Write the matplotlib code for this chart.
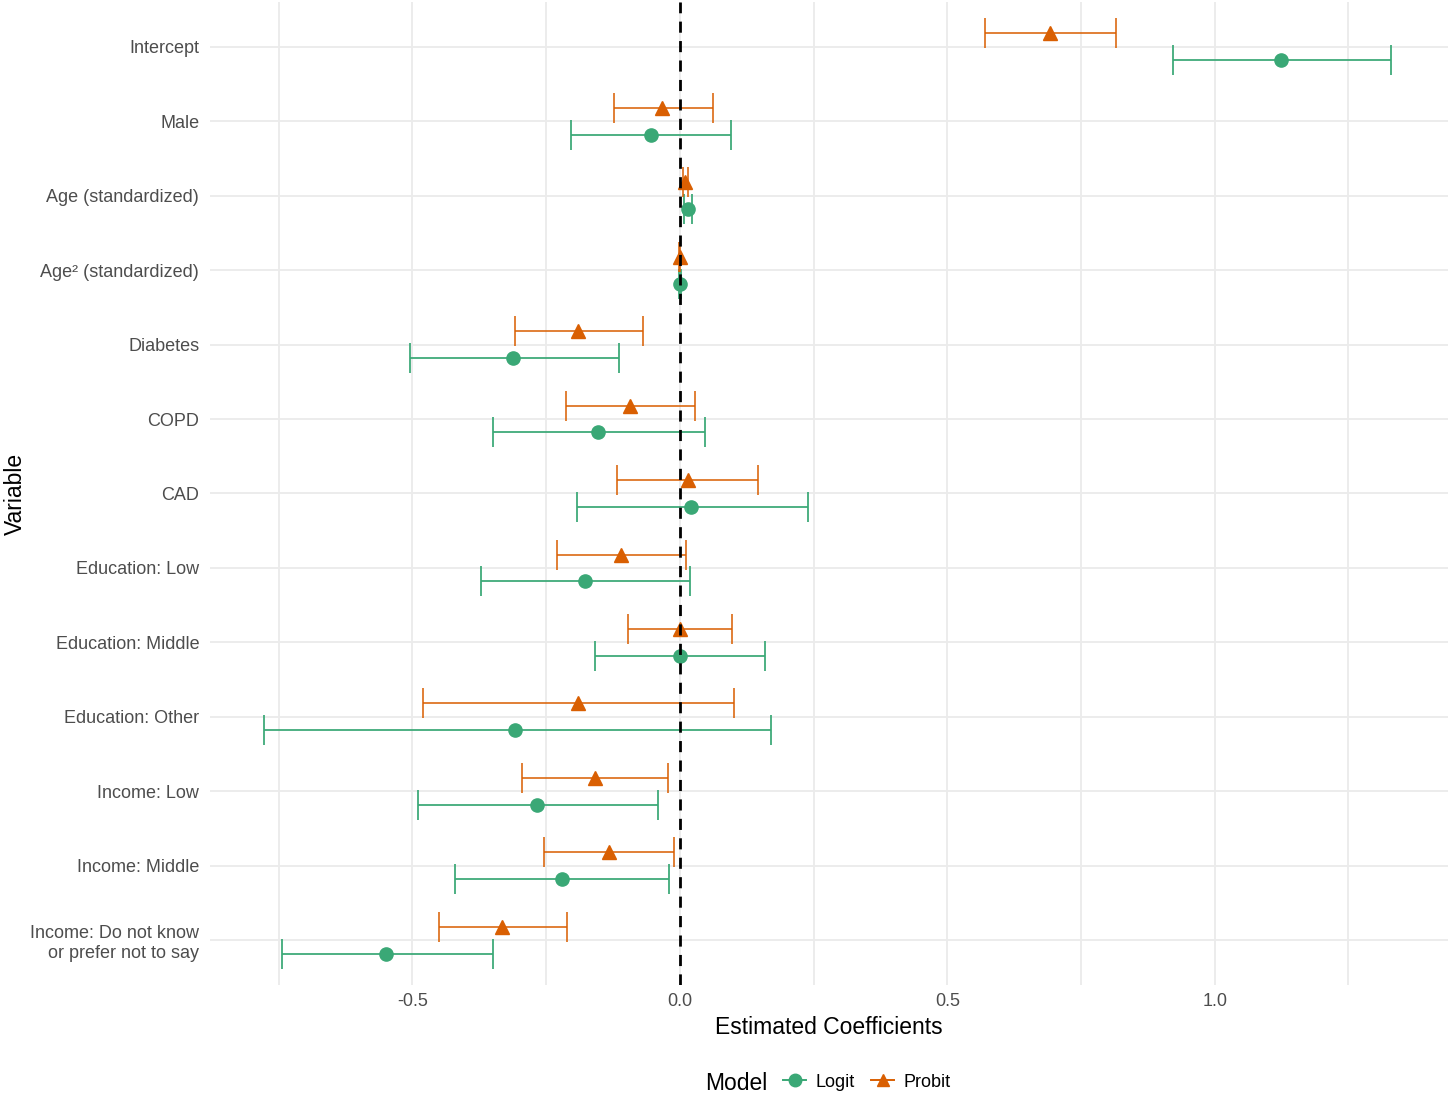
import numpy as np
import matplotlib.pyplot as plt
from matplotlib.lines import Line2D

plt.rcParams['font.family'] = ['Liberation Sans', 'DejaVu Sans']

# coefficient estimates
variables = ["Intercept", "Male", "Age (standardized)", "Age\u00b2 (standardized)",
             "Diabetes", "COPD", "CAD", "Education: Low", "Education: Middle",
             "Education: Other", "Income: Low", "Income: Middle",
             "Income: Do not know\nor prefer not to say"]

logit_est = [1.123, -0.054, 0.015, 0.000, -0.312, -0.153, 0.021, -0.177, 0.000, -0.308, -0.267, -0.220, -0.549]
logit_lo = [0.922, -0.203, 0.008, -0.002, -0.504, -0.349, -0.192, -0.371, -0.159, -0.778, -0.489, -0.420, -0.744]
logit_hi = [1.330, 0.095, 0.023, 0.002, -0.114, 0.047, 0.239, 0.019, 0.160, 0.170, -0.041, -0.021, -0.349]

probit_est = [0.692, -0.034, 0.009, 0.000, -0.190, -0.093, 0.015, -0.110, 0.000, -0.190, -0.159, -0.132, -0.332]
probit_lo = [0.571, -0.123, 0.006, -0.001, -0.308, -0.213, -0.118, -0.229, -0.097, -0.481, -0.295, -0.254, -0.451]
probit_hi = [0.815, 0.062, 0.015, 0.001, -0.069, 0.028, 0.146, 0.011, 0.097, 0.101, -0.022, -0.011, -0.211]

green = "#3aa876"
orange = "#d95f02"

fig = plt.figure(figsize=(14.5, 10.93), dpi=100)
ax = fig.add_axes([0.145, 0.099, 0.8536, 0.899])

ypos = np.arange(len(variables))
dodge = 0.18

le = np.array(logit_est)
pe = np.array(probit_est)
ax.errorbar(le, ypos + dodge, xerr=[le - np.array(logit_lo), np.array(logit_hi) - le],
            fmt='none', ecolor=green, elinewidth=1.4, capsize=10.5, capthick=1.4, alpha=0.9, zorder=3)
ax.errorbar(pe, ypos - dodge, xerr=[pe - np.array(probit_lo), np.array(probit_hi) - pe],
            fmt='none', ecolor=orange, elinewidth=1.4, capsize=10.5, capthick=1.4, alpha=0.8, zorder=3)
ax.plot(le, ypos + dodge, 'o', color=green, markersize=9.5, zorder=4, linestyle='none')
ax.plot(pe, ypos - dodge, '^', color=orange, markersize=10, zorder=4, linestyle='none')

ax.axvline(0, color='black', linestyle=(0, (4, 3)), linewidth=2, zorder=5)

ax.set_xlim(-0.878, 1.436)
ax.set_ylim(len(variables) - 0.4, -0.6)
ax.set_yticks(ypos)
ax.set_yticklabels(variables)
ax.set_xticks([-0.5, 0.0, 0.5, 1.0])
ax.set_xticklabels(["-0.5", "0.0", "0.5", "1.0"])
ax.set_xticks([-0.75, -0.25, 0.25, 0.75, 1.25], minor=True)

ax.grid(True, which='major', color='#ebebeb', linewidth=1.3)
ax.grid(True, which='minor', axis='x', color='#ebebeb', linewidth=1.3)
ax.set_axisbelow(True)
for s in ax.spines.values():
    s.set_visible(False)
ax.tick_params(axis='both', which='both', length=0, labelsize=13, labelcolor='#4d4d4d')
ax.tick_params(axis='y', pad=8)
ax.tick_params(axis='x', pad=6)

ax.set_xlabel("Estimated Coefficients", fontsize=16.5, labelpad=4)
ax.set_ylabel("Variable", fontsize=16.5)
ax.yaxis.set_label_coords(-0.148, 0.5)

handles = [
    Line2D([0], [0], color=green, marker='o', markersize=9, linewidth=1.4),
    Line2D([0], [0], color=orange, marker='^', markersize=9, linewidth=1.4),
]
fig.text(0.486, 0.009, "Model", fontsize=16.5, ha='left', va='center')
fig.legend(handles, ["Logit", "Probit"], loc='center left', bbox_to_anchor=(0.540, 0.010),
           ncol=2, frameon=False, fontsize=13, handlelength=1.3, handletextpad=0.5,
           columnspacing=0.9, borderaxespad=0, borderpad=0)

fig.savefig("out.png", dpi=100)
